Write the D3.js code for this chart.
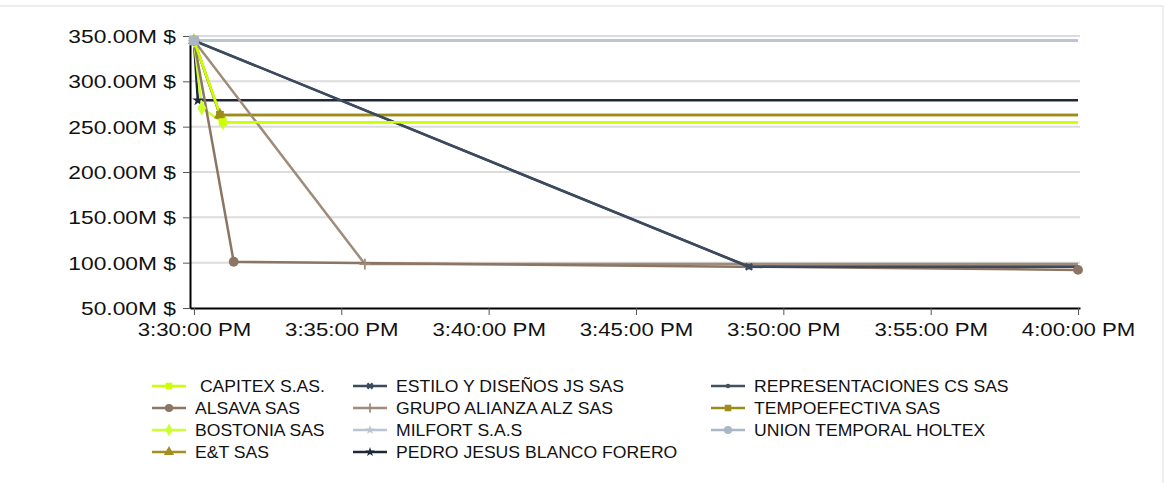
<!DOCTYPE html>
<html>
<head>
<meta charset="utf-8">
<script src="https://cdn.jsdelivr.net/npm/d3@7"></script>
<style>
  html, body { margin: 0; padding: 0; background: #fff; }
  svg { display: block; font-family: "Liberation Sans", Arial, sans-serif; }
</style>
</head>
<body>
<svg id="chart" width="1175" height="483"></svg>
<script>
// ---------------- DATA ----------------
const seriesNames = [
  " CAPITEX S.AS.", "ESTILO Y DISEÑOS JS SAS", "REPRESENTACIONES CS SAS",
  "ALSAVA SAS", "GRUPO ALIANZA ALZ SAS", "TEMPOEFECTIVA SAS",
  "BOSTONIA SAS", "MILFORT S.A.S", "UNION TEMPORAL HOLTEX",
  "E&T SAS", "PEDRO JESUS BLANCO FORERO"
];
// bids per bidder: [time, value in millions]
const capitex        = [["15:30:00", 345], ["15:30:59", 255], ["16:00:00", 255]];
const estilo         = [["15:30:00", 345], ["15:48:50", 95.5], ["16:00:00", 95.5]];
const representaciones = [["15:30:00", 345], ["15:48:50", 95.5], ["16:00:00", 95.5]];
const alsava         = [["15:30:00", 345], ["15:31:21", 101], ["16:00:00", 92]];
const grupoAlianza   = [["15:30:00", 345], ["15:35:48", 98.5], ["16:00:00", 98.5]];
const tempoefectiva  = [["15:30:00", 345], ["15:30:53", 263], ["16:00:00", 263]];
const bostonia       = [["15:30:00", 345], ["15:30:16", 270.5], ["15:30:59", 254.5], ["16:00:00", 254.5]];
const milfort        = [["15:30:00", 345], ["16:00:00", 345]];
const unionTemporal  = [["15:30:00", 345], ["16:00:00", 345]];
const eyt            = [["15:30:00", 345], ["15:30:53", 263], ["16:00:00", 263]];
const pedroJesus     = [["15:30:00", 345], ["15:30:08", 279], ["16:00:00", 279]];
const seriesData = [capitex, estilo, representaciones, alsava, grupoAlianza, tempoefectiva,
                    bostonia, milfort, unionTemporal, eyt, pedroJesus];
// whether the closing point (4:00:00 PM) is an actual bid with a marker
const closingMarked = [false, false, false, true, false, false, false, false, false, false, false];

const yTicks = [50, 100, 150, 200, 250, 300, 350];
const xTicks = ["15:30:00", "15:35:00", "15:40:00", "15:45:00", "15:50:00", "15:55:00", "16:00:00"];
const xDomain = ["15:29:52", "16:00:04"];

// ---------------- STYLE ----------------
const colors = ["#ccff00", "#3b4a5e", "#444f5f", "#8c7563", "#a08c7a", "#9c8c1a",
                "#ccff33", "#b9c5d3", "#a9b7c4", "#a39020", "#1e2838"];
const markers = ["square", "x", "dot", "circle", "plus", "square",
                 "diamond", "star", "circle", "triangle", "star"];

const parse = s => new Date("2020-01-01T" + s);
const svg = d3.select("#chart");

// frame
svg.append("rect").attr("x", -2).attr("y", 6).attr("width", 1165).attr("height", 490)
  .attr("fill", "none").attr("stroke", "#dedede").attr("stroke-width", 1);

const x = d3.scaleTime().domain(xDomain.map(parse)).range([190, 1080]);
const y = d3.scaleLinear().domain([50, 350]).range([308, 36]);

// gridlines
svg.append("g").selectAll("line").data(yTicks.filter(d => d > 50)).join("line")
  .attr("x1", 190).attr("x2", 1080)
  .attr("y1", d => y(d)).attr("y2", d => y(d))
  .attr("stroke", "#dcdcdc").attr("stroke-width", 2);

const SX = 1.2;
// y axis
const gy = svg.append("g").attr("transform", "translate(190,0)")
  .call(d3.axisLeft(y).tickValues(yTicks).tickSize(7).tickSizeOuter(0)
        .tickFormat(d => d.toFixed(2) + "M $"));
gy.select(".domain").attr("stroke", "#000").attr("stroke-width", 2);
gy.selectAll(".tick line").attr("stroke", "#555").attr("stroke-width", 1);
gy.selectAll(".tick text")
  .attr("x", -14 / SX).attr("dy", "0.34em")
  .attr("transform", `scale(${SX},1)`)
  .attr("font-size", 19).attr("fill", "#111")
  .attr("font-family", "Liberation Sans, Arial, sans-serif");

// x axis
const gx = svg.append("g").attr("transform", "translate(0,308)")
  .call(d3.axisBottom(x).tickValues(xTicks.map(parse)).tickSize(7).tickSizeOuter(0)
        .tickFormat(d3.timeFormat("%-I:%M:%S %p")));
gx.select(".domain").attr("stroke", "#000").attr("stroke-width", 2);
gx.selectAll(".tick line").attr("stroke", "#555").attr("stroke-width", 1);
gx.selectAll(".tick text")
  .attr("y", 15).attr("dy", "0.71em")
  .attr("transform", `scale(${SX},1)`)
  .attr("font-size", 18.5).attr("fill", "#111")
  .attr("font-family", "Liberation Sans, Arial, sans-serif");

// marker drawing
function drawMarker(g, type, color, cx, cy, scale) {
  const s = scale || 1;
  const t = `translate(${cx},${cy})`;
  if (type === "square") {
    g.append("path").attr("d", d3.symbol(d3.symbolSquare, 60 * s)()).attr("transform", t).attr("fill", color);
  } else if (type === "circle") {
    g.append("path").attr("d", d3.symbol(d3.symbolCircle, 75 * s)()).attr("transform", t).attr("fill", color);
  } else if (type === "dot") {
    g.append("path").attr("d", d3.symbol(d3.symbolCircle, 22 * s)()).attr("transform", t).attr("fill", color);
  } else if (type === "diamond") {
    g.append("path").attr("d", d3.symbol(d3.symbolDiamond, 70 * s)()).attr("transform", t).attr("fill", color);
  } else if (type === "triangle") {
    g.append("path").attr("d", d3.symbol(d3.symbolTriangle, 65 * s)()).attr("transform", t).attr("fill", color);
  } else if (type === "star") {
    g.append("path").attr("d", d3.symbol(d3.symbolStar, 40 * s)()).attr("transform", t).attr("fill", color);
  } else if (type === "x") {
    g.append("path").attr("d", d3.symbol(d3.symbolTimes, 28 * s)()).attr("transform", t)
      .attr("fill", "none").attr("stroke", color).attr("stroke-width", 2.4);
  } else if (type === "plus") {
    g.append("path").attr("d", d3.symbol(d3.symbolPlus, 40 * s)()).attr("transform", t)
      .attr("fill", "none").attr("stroke", color).attr("stroke-width", 1.8);
  }
}

const line = d3.line().x(d => x(parse(d[0]))).y(d => y(d[1]));
const plot = svg.append("g");
// draw in reverse so the first series end up on top
const order = d3.range(seriesData.length).reverse();
order.forEach(i => {
  plot.append("path").datum(seriesData[i]).attr("d", line)
    .attr("fill", "none").attr("stroke", colors[i]).attr("stroke-width", 2.5)
    .attr("stroke-linejoin", "round");
});
order.forEach(i => {
  const pts = seriesData[i];
  pts.forEach((p, j) => {
    const isClose = j === pts.length - 1 && p[0] === "16:00:00";
    if (isClose && !closingMarked[i]) return;
    drawMarker(plot, markers[i], colors[i], x(parse(p[0])), y(p[1]));
  });
});
// start marker on top (common opening value)
drawMarker(plot, "square", "#aab6c2", x(parse(unionTemporal[0][0])), y(unionTemporal[0][1]), 1.6);

// legend
const colX = [152, 353, 711];
const rowY = [386, 408, 430, 452];
const legend = svg.append("g");
seriesNames.forEach((name, i) => {
  const cx = colX[i % 3], cy = rowY[Math.floor(i / 3)];
  legend.append("line").attr("x1", cx).attr("x2", cx + 34).attr("y1", cy).attr("y2", cy)
    .attr("stroke", colors[i]).attr("stroke-width", 2.5);
  drawMarker(legend, markers[i], colors[i], cx + 17, cy, 0.7);
  legend.append("text")
    .attr("transform", `translate(${cx + 43},${cy}) scale(1.1,1)`)
    .attr("dy", "0.35em").attr("font-size", 16).attr("fill", "#111")
    .attr("xml:space", "preserve")
    .style("white-space", "pre")
    .text(name);
});
</script>
</body>
</html>
